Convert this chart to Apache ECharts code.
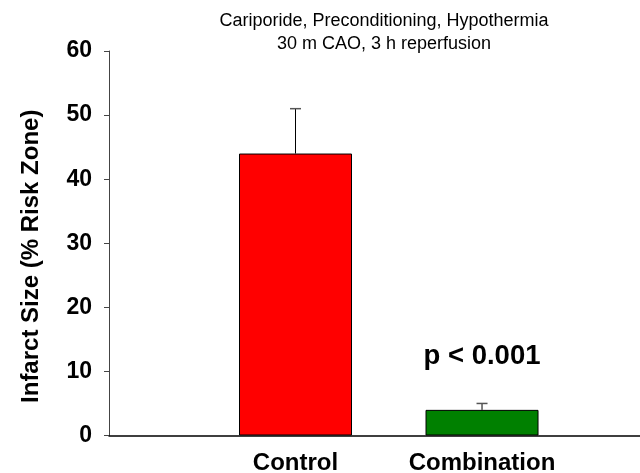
<!DOCTYPE html>
<html>
<head>
<meta charset="utf-8">
<script src="https://cdn.jsdelivr.net/npm/echarts@6/dist/echarts.min.js"></script>
<style>html,body{margin:0;padding:0;background:#fff;overflow:hidden;}#c{width:640px;height:473px;}</style>
</head>
<body>
<div id="c"></div>
<script>
var categories = ['Control', 'Combination'];
var positions = [1, 2];
var means = [44, 4];
var upperErr = [51, 5];
var barColors = ['#FF0000', '#008000'];
var yTicks = [0, 10, 20, 30, 40, 50, 60];
var titleLines = ['Cariporide, Preconditioning, Hypothermia', '30 m CAO, 3 h reperfusion'];
var yName = 'Infarct Size (% Risk Zone)';
var pText = 'p < 0.001';

var FONT = 'Arial, "Liberation Sans", sans-serif';
var chart = echarts.init(document.getElementById('c'), null, {renderer: 'canvas'});

var barData = positions.map(function (p, i) {
  return {value: [p, means[i]], itemStyle: {color: barColors[i]}};
});
var errData = positions.map(function (p, i) { return [p, means[i], upperErr[i]]; });

chart.setOption({
  animation: false,
  backgroundColor: '#fff',
  title: {
    text: titleLines.join('\n'),
    left: 379, top: 5, textAlign: 'center',
    textStyle: {fontFamily: FONT, fontSize: 18, fontWeight: 'normal', color: '#000', lineHeight: 22.5, align: 'center'}
  },
  grid: {left: 109, right: 0, top: 51, bottom: 37.5, outerBoundsMode: 'none', containLabel: false},
  xAxis: {
    type: 'value', min: 0, max: 2.847, interval: 1,
    splitLine: {show: false},
    axisLine: {show: true, onZero: false, lineStyle: {color: '#000', width: 1.5}},
    axisTick: {show: false},
    axisLabel: {
      fontFamily: FONT, fontSize: 24, fontWeight: 'bold', color: '#000', margin: 16,
      showMaxLabel: false,
      formatter: function (v) {
        var idx = positions.indexOf(v);
        return idx >= 0 ? categories[idx] : '';
      }
    }
  },
  yAxis: {
    type: 'value', min: yTicks[0], max: yTicks[yTicks.length - 1], interval: 10,
    name: yName, nameLocation: 'middle', nameGap: 66, nameRotate: 90,
    nameTextStyle: {fontFamily: FONT, fontSize: 24, fontWeight: 'bold', color: '#000', padding: [0, 26, 0, 0]},
    splitLine: {show: false},
    axisLine: {show: true, lineStyle: {color: '#444', width: 1}},
    axisTick: {show: true, length: 5, lineStyle: {color: '#444'}},
    axisLabel: {fontFamily: FONT, fontSize: 23, fontWeight: 'bold', color: '#000', margin: 17}
  },
  graphic: [{
    type: 'text', x: 482, y: 356,
    style: {text: pText, font: 'bold 27.5px ' + FONT, fill: '#000', align: 'center', verticalAlign: 'middle'}
  }],
  series: [{
    type: 'bar', data: barData, barWidth: 113,
    itemStyle: {borderColor: '#000', borderWidth: 1}
  }, {
    type: 'custom', data: errData,
    renderItem: function (params, api) {
      var x = api.value(0);
      var top = api.coord([x, api.value(2)]);
      var base = api.coord([x, api.value(1)]);
      var cap = 5.5;
      return {
        type: 'group',
        children: [
          {type: 'line', shape: {x1: top[0], y1: base[1], x2: top[0], y2: top[1]}, style: {stroke: '#000', lineWidth: 1}},
          {type: 'line', shape: {x1: top[0] - cap, y1: top[1], x2: top[0] + cap, y2: top[1]}, style: {stroke: '#555', lineWidth: 1.5}}
        ]
      };
    },
    z: 3
  }]
});
</script>
</body>
</html>
